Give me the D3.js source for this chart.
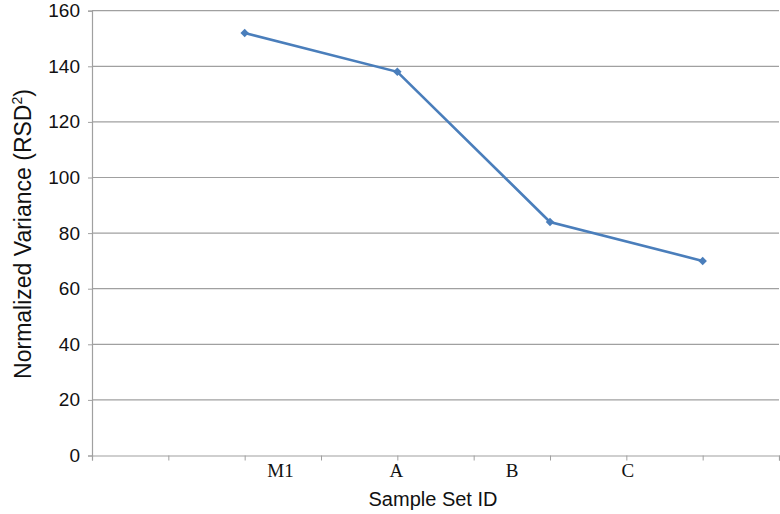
<!DOCTYPE html>
<html>
<head>
<meta charset="utf-8">
<script src="https://cdn.jsdelivr.net/npm/d3@7"></script>
<style>
  body { margin: 0; background: #fff; }
  svg { display: block; }
</style>
</head>
<body>
<svg id="chart" width="780" height="514"></svg>
<script>
// data
var categories = ["M1", "A", "B", "C"];
var slots = [2, 4, 6, 8];          // category slot of each point on the axis
var values = [152, 138, 84, 70];
var yTicks = [0, 20, 40, 60, 80, 100, 120, 140, 160];

var svg = d3.select("#chart"),
    margin = {top: 10.7, right: 1, bottom: 58.5, left: 92},
    width = 780 - margin.left - margin.right,
    height = 514 - margin.top - margin.bottom;

var g = svg.append("g").attr("transform", "translate(" + margin.left + "," + margin.top + ")");

var x = d3.scaleLinear().domain([0, 9]).range([0, width]);
var y = d3.scaleLinear().domain([0, 160]).range([height, 0]);

// labels sit a bit off the points in the original
var xLab = d3.scalePoint().domain(categories).range([x(2.47), x(7.02)]);

// gridlines
g.selectAll(".grid")
  .data(yTicks.slice(1))
  .enter().append("line")
    .attr("x1", 0).attr("x2", width)
    .attr("y1", function(d) { return y(d); })
    .attr("y2", function(d) { return y(d); })
    .attr("stroke", "#a0a0a0").attr("stroke-width", 1.2);

// y axis
var yAxis = g.append("g")
  .call(d3.axisLeft(y).tickValues(yTicks).tickSize(4).tickPadding(8));
yAxis.select(".domain").attr("stroke", "#a0a0a0").attr("stroke-width", 1.2);
yAxis.selectAll(".tick line").attr("stroke", "#a0a0a0");
yAxis.selectAll("text")
  .attr("font-family", "Liberation Sans, Arial, sans-serif")
  .attr("font-size", 19).attr("fill", "#111");

// x axis
var xAxis = g.append("g").attr("transform", "translate(0," + height + ")")
  .call(d3.axisBottom(x).ticks(9).tickSize(5).tickFormat(""));
xAxis.select(".domain").attr("stroke", "#a0a0a0").attr("stroke-width", 1.2);
xAxis.selectAll(".tick line").attr("stroke", "#a0a0a0");

g.append("g").selectAll("text")
  .data(categories)
  .enter().append("text")
    .attr("x", function(d) { return xLab(d); })
    .attr("y", height + 22)
    .attr("text-anchor", "middle")
    .attr("font-family", "Liberation Serif, Times New Roman, serif")
    .attr("font-size", 19).attr("fill", "#111")
    .text(function(d) { return d; });

// line + markers
var pts = values.map(function(v, i) { return {x: slots[i], y: v}; });

g.append("path")
  .datum(pts)
  .attr("fill", "none")
  .attr("stroke", "#4a7ebb")
  .attr("stroke-width", 2.6)
  .attr("d", d3.line().x(function(d) { return x(d.x); }).y(function(d) { return y(d.y); }));

g.selectAll(".pt")
  .data(pts)
  .enter().append("path")
    .attr("transform", function(d) { return "translate(" + x(d.x) + "," + y(d.y) + ") rotate(45)"; })
    .attr("d", d3.symbol().type(d3.symbolSquare).size(36))
    .attr("fill", "#4a7ebb");

// axis titles
svg.append("text")
  .attr("x", 433).attr("y", 506)
  .attr("text-anchor", "middle")
  .attr("font-family", "Liberation Sans, Arial, sans-serif")
  .attr("font-size", 20).attr("fill", "#111")
  .text("Sample Set ID");

var yt = svg.append("text")
  .attr("transform", "translate(31,234) rotate(-90)")
  .attr("text-anchor", "middle")
  .attr("font-family", "Liberation Sans, Arial, sans-serif")
  .attr("font-size", 23).attr("fill", "#111");
yt.append("tspan").text("Normalized Variance (RSD");
yt.append("tspan").attr("dy", -9).attr("font-size", 14).text("2");
yt.append("tspan").attr("dy", 9).text(")");
</script>
</body>
</html>
